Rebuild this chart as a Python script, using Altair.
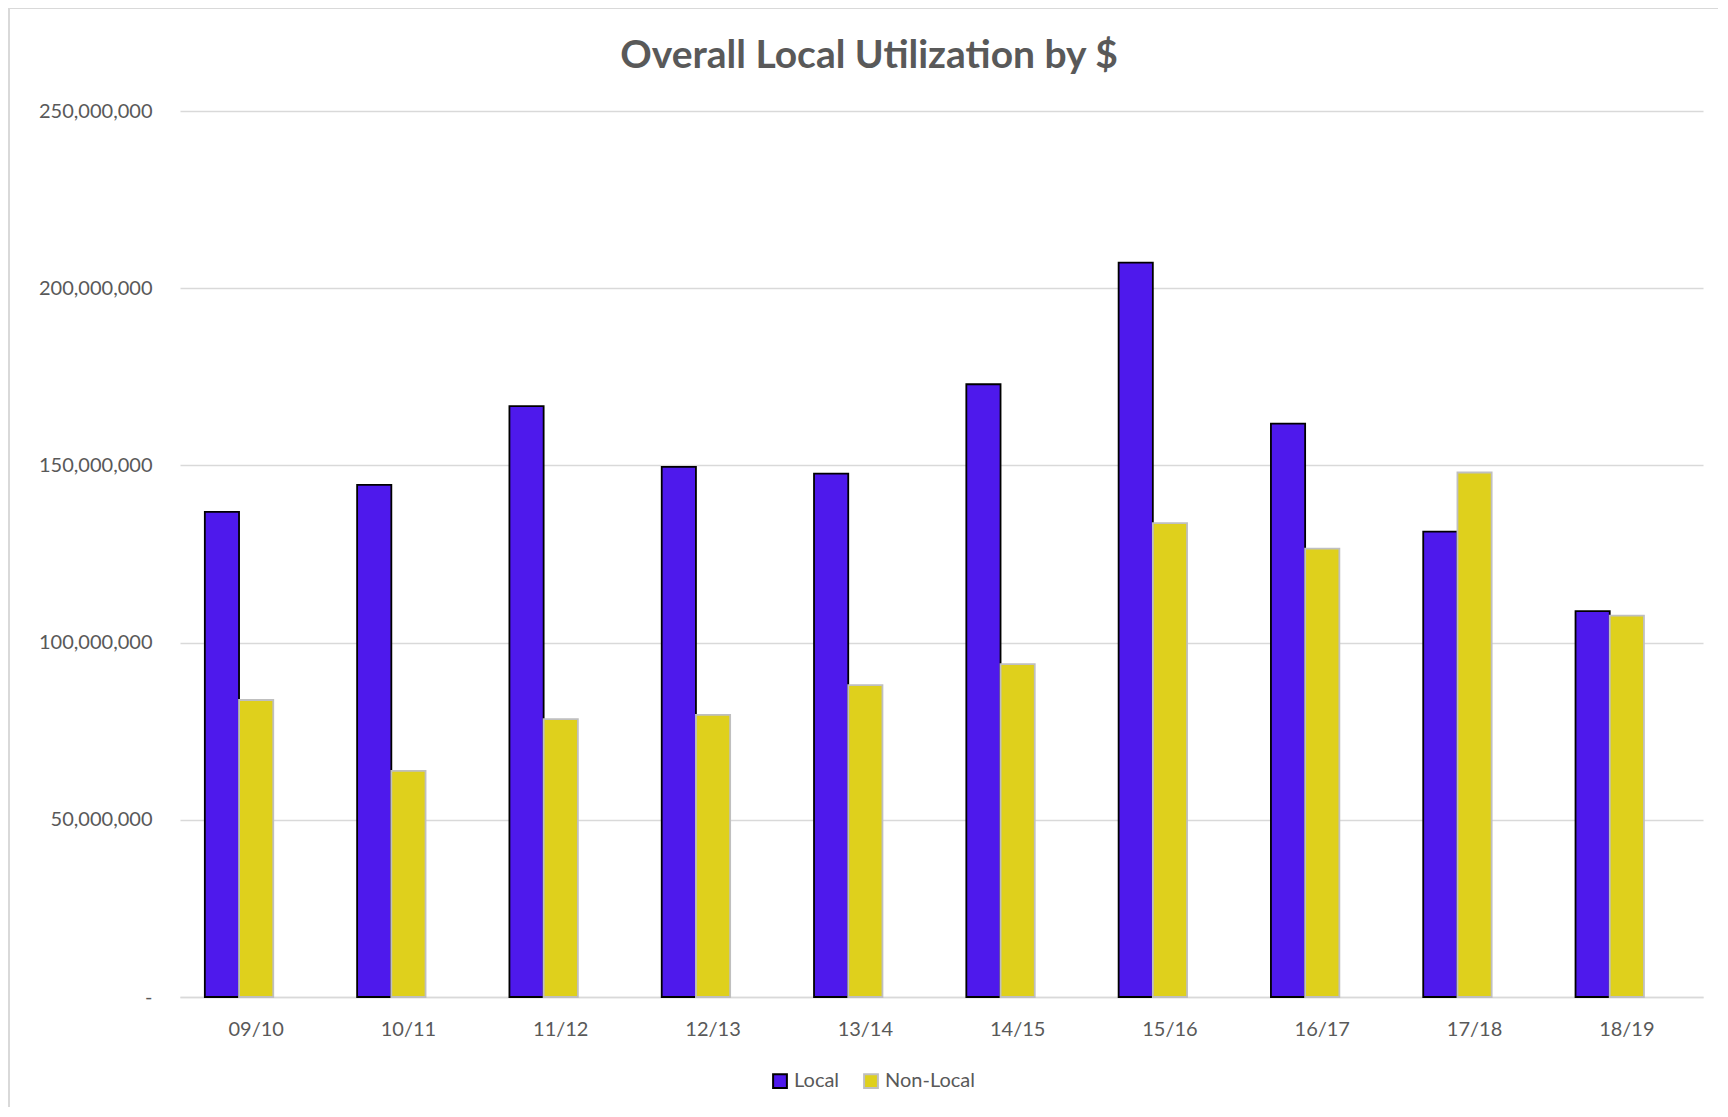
import altair as alt
import pandas as pd

title_text = "Overall Local Utilization by $"
years = ["09/10", "10/11", "11/12", "12/13", "13/14", "14/15", "15/16", "16/17", "17/18", "18/19"]
series = ["Local", "Non-Local"]
slots = ["Local", "Non-Local", "(empty)"]
local_vals = [136.9e6, 144.5e6, 166.7e6, 149.6e6, 147.7e6, 172.9e6, 207.2e6, 161.8e6, 131.3e6, 108.9e6]
nonlocal_vals = [83.8e6, 63.8e6, 78.4e6, 79.6e6, 88.0e6, 93.9e6, 133.7e6, 126.5e6, 148.0e6, 107.6e6]
y_ticks = [0, 50e6, 100e6, 150e6, 200e6, 250e6]

rows = []
for i, yr in enumerate(years):
    rows.append({"year": yr, "series": "Local", "value": local_vals[i]})
    rows.append({"year": yr, "series": "Non-Local", "value": nonlocal_vals[i]})
df = pd.DataFrame(rows)

FONT = "Lato"
TXT = "#595959"
GRID = "#D9D9D9"

legend_spec = alt.Legend(
    title=None, orient="none", legendX=590, legendY=960, direction="horizontal",
    symbolType="square", symbolSize=190, symbolStrokeWidth=2,
    labelFontSize=20, labelColor=TXT, labelFont=FONT, columnPadding=20, labelOffset=4,
)

bars = alt.Chart(df).mark_bar(strokeWidth=1.8).encode(
    x=alt.X("year:N", sort=years,
            scale=alt.Scale(paddingInner=0.326, paddingOuter=0.163),
            axis=alt.Axis(title=None, labelAngle=0, ticks=False, domainColor=GRID, domainWidth=1.5,
                          labelFontSize=20, labelColor=TXT, labelFont=FONT, labelPadding=22)),
    xOffset=alt.XOffset("series:N", scale=alt.Scale(domain=slots, paddingInner=0, paddingOuter=0)),
    y=alt.Y("value:Q", scale=alt.Scale(domain=[0, 250e6]),
            axis=alt.Axis(title=None, values=y_ticks, grid=True, gridColor=GRID, gridWidth=1.5,
                          domain=False, ticks=False, labelPadding=28,
                          labelExpr="datum.value == 0 ? '-' : format(datum.value, ',')",
                          labelFontSize=20, labelColor=TXT, labelFont=FONT)),
    color=alt.Color("series:N", sort=series,
                    scale=alt.Scale(domain=series, range=["#4E19EC", "#DFD01C"]),
                    legend=legend_spec),
    stroke=alt.Stroke("series:N", sort=series,
                      scale=alt.Scale(domain=series, range=["#000000", "#BFBFBF"]),
                      legend=legend_spec),
)

frame = alt.Chart(pd.DataFrame({"a": [0]})).mark_rect(fill="transparent", stroke=GRID, strokeWidth=2).encode(
    x=alt.value(-171), x2=alt.value(1700), y=alt.value(-103), y2=alt.value(1100)
)

title = alt.Chart(pd.DataFrame({"t": [title_text]})).mark_text(
    font=FONT, fontSize=39, fontWeight="bold", color=TXT, align="center", baseline="middle"
).encode(text="t:N", x=alt.value(689), y=alt.value(-55))

chart = alt.layer(frame, bars, title).properties(
    width=1523, height=886,
    autosize=alt.AutoSizeParams(type="none"),
    padding={"left": 172, "top": 103, "right": 15, "bottom": 110},
).configure_view(stroke=None)

chart.save("out.html", embed_options={"renderer": "svg", "actions": False})
